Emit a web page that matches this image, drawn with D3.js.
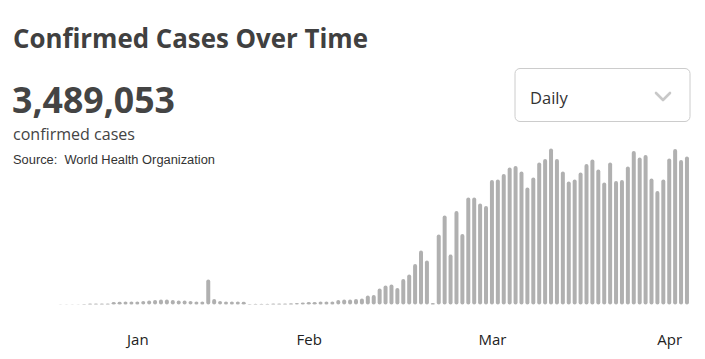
<!DOCTYPE html>
<html>
<head>
<meta charset="utf-8">
<script src="https://cdn.jsdelivr.net/npm/d3@7"></script>
<style>
  html, body { margin: 0; padding: 0; background: #fff; }
  svg { display: block; }
</style>
</head>
<body>
<svg id="chart" width="705" height="359"></svg>
<script>
// ---- data ----
const title = "Confirmed Cases Over Time";
const totalLabel = "3,489,053";
const subLabel = "confirmed cases";
const sourceLabel = "Source:\u00a0 World Health Organization";
const dropdownLabel = "Daily";
const startDate = "2020-01-19";
const dailyCases = [
  190, 190, 260, 260, 320, 650, 650, 650, 770, 1610,
  1810, 1940, 1940, 2060, 2260, 2580, 2900, 3230, 3230, 2900,
  2710, 2580, 2260, 1940, 1940, 16130, 3550, 2260, 1940, 1940,
  1940, 1810, 390, 520, 520, 520, 650, 650, 770, 840,
  970, 1290, 1610, 1610, 1940, 1940, 2060, 2900, 3230, 3230,
  3550, 3870, 5810, 6130, 10320, 12260, 12900, 10650, 16450, 19350,
  26130, 34840, 28390, 1100, 45160, 57420, 32260, 60320, 45480, 69030,
  69030, 65160, 63550, 80320, 80650, 84190, 88390, 89350, 85810, 75480,
  81940, 91610, 93870, 100650, 93870, 85810, 79350, 80650, 85160, 90650,
  93550, 87100, 78710, 91610, 79680, 80320, 89030, 99030, 94840, 96450,
  81290, 73230, 80650, 94190, 100320, 93230, 95480
];
const tickDates = ["2020-02-01", "2020-03-01", "2020-04-01", "2020-05-01"];
const tickLabels = ["Jan", "Feb", "Mar", "Apr"];

// ---- build ----
const parse = d3.utcParse("%Y-%m-%d");
const start = parse(startDate);
const data = dailyCases.map((v, i) => ({ date: d3.utcDay.offset(start, i), value: v }));

const svg = d3.select("#chart");
const textColor = "#444444";

// header texts
svg.append("text")
  .attr("x", 13).attr("y", 48)
  .attr("font-family", "'Open Sans', 'Noto Sans', sans-serif")
  .attr("font-weight", 700).attr("font-size", 26)
  .attr("fill", "#404040")
  .attr("textLength", 355).attr("lengthAdjust", "spacingAndGlyphs")
  .text(title);

svg.append("text")
  .attr("x", 12).attr("y", 113)
  .attr("font-family", "'Open Sans', 'Noto Sans', sans-serif")
  .attr("font-weight", 700).attr("font-size", 36)
  .attr("fill", textColor)
  .attr("textLength", 163).attr("lengthAdjust", "spacingAndGlyphs")
  .text(totalLabel);

svg.append("text")
  .attr("x", 13).attr("y", 140)
  .attr("font-family", "'Open Sans', 'Noto Sans', sans-serif")
  .attr("font-size", 16.5)
  .attr("fill", textColor)
  .attr("textLength", 122).attr("lengthAdjust", "spacingAndGlyphs")
  .text(subLabel);

svg.append("text")
  .attr("x", 13).attr("y", 164)
  .attr("font-family", "'Liberation Sans', Arial, sans-serif")
  .attr("font-size", 12)
  .attr("fill", "#333")
  .attr("textLength", 202).attr("lengthAdjust", "spacingAndGlyphs")
  .text(sourceLabel);

// dropdown
const dd = svg.append("g");
dd.append("rect")
  .attr("x", 515).attr("y", 68.5).attr("width", 175).attr("height", 53)
  .attr("rx", 5).attr("ry", 5)
  .attr("fill", "#fff").attr("stroke", "#cccccc").attr("stroke-width", 1);
dd.append("text")
  .attr("x", 530).attr("y", 104)
  .attr("font-family", "'Open Sans', 'Noto Sans', sans-serif")
  .attr("font-size", 16.5).attr("fill", "#333")
  .text(dropdownLabel);
dd.append("path")
  .attr("d", "M656,93 L663,100 L670,93")
  .attr("fill", "none").attr("stroke", "#c8c8c8")
  .attr("stroke-width", 2.6).attr("stroke-linecap", "round").attr("stroke-linejoin", "round");

// scales
const baseline = 304.6;
const step = 5.91;
const x0 = 60.5;
const x = d3.scaleUtc()
  .domain([data[0].date, data[data.length - 1].date])
  .range([x0, x0 + step * (data.length - 1)]);
const y = d3.scaleLinear().domain([0, 100000]).range([baseline, baseline - 155]);

const barW = 4;
svg.append("g").selectAll("rect")
  .data(data)
  .join("rect")
  .attr("x", d => x(d.date) - barW / 2)
  .attr("width", barW)
  .attr("y", d => y(d.value))
  .attr("height", d => baseline - y(d.value))
  .attr("rx", 2).attr("ry", 2)
  .attr("fill", "#b0b0b0");

// axis
const axis = d3.axisBottom(x)
  .tickValues(tickDates.map(parse))
  .tickFormat((d, i) => tickLabels[i])
  .tickSize(0)
  .tickPadding(14);
const gx = svg.append("g").attr("transform", `translate(0,${320})`).call(axis);
gx.select(".domain").remove();
gx.selectAll("text")
  .attr("font-family", "'Open Sans', 'Noto Sans', sans-serif")
  .attr("font-size", 15)
  .attr("fill", "#222");
</script>
</body>
</html>
